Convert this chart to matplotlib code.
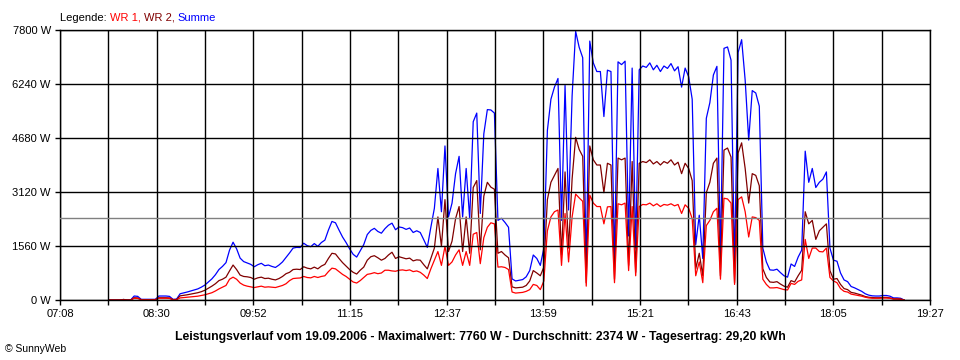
import numpy as np
import matplotlib.pyplot as plt

plt.rcParams['font.family'] = ['Liberation Sans', 'DejaVu Sans']

## samples every 3 minutes, first sample at 07:50
start_min = 7 * 60 + 50
step_min = 3

## WR 1 (red) in W
wr1 = [0, 0, 0, 0, 0, 0, 0, 50, 45, 10, 10, 10, 10, 10, 50, 50, 50, 45, 10, 10,
       60, 70, 80, 90, 100, 110, 130, 150, 180, 210,
       260, 320, 370, 420, 600, 660, 600, 490, 430, 400,
       380, 360, 380, 400, 370, 380, 370, 360, 390, 420,
       470, 560, 620, 630, 636, 680, 650, 640, 680, 650,
       680, 700, 820, 920, 900, 820, 740, 680, 600, 520,
       490, 560, 650, 740, 760, 790, 760, 780, 860, 860,
       840, 830, 860, 870, 850, 870, 820, 840, 800, 720,
       620, 900, 1150, 1400, 1000, 1550, 1000, 1100, 1300, 1450,
       1000, 1400, 1000, 1900, 1950, 1050, 1800, 2100, 2230, 2200,
       950, 960, 940, 880, 230, 200, 210, 220, 250, 300,
       450, 420, 300, 550, 2000, 2400, 2550, 2600, 1000, 2500,
       1100, 2400, 3060, 2950, 2850, 400, 3030, 2800, 2700, 2700,
       2200, 2690, 2700, 500, 2780, 2750, 2800, 850, 2700, 700,
       2700, 2760, 2750, 2800, 2720, 2780, 2700, 2760, 2740, 2780,
       2720, 2760, 2500, 2750, 2650, 2350, 700, 1100, 500, 2150,
       2300, 2550, 2650, 600, 2940, 2920, 2800, 450, 2900, 2980,
       2550, 1820, 2400, 2380, 2300, 600, 450, 350, 350, 360,
       330, 300, 290, 480, 450, 540, 580, 1750, 1200, 1500,
       1500, 1400, 1390, 1500, 650, 550, 500, 330, 250, 230,
       170, 150, 130, 110, 80, 60, 50, 50, 50, 55,
       55, 50, 25, 25, 20, 0]

## WR 2 (dark red) in W
wr2 = [0, 0, 0, 0, 15, 0, 0, 65, 60, 10, 10, 10, 10, 10, 65, 65, 65, 60, 10, 15,
       120, 135, 150, 170, 190, 210, 240, 280, 340, 400,
       470, 560, 600, 660, 840, 1010, 880, 720, 680, 670,
       650, 600, 640, 660, 620, 630, 600, 580, 620, 680,
       760, 800, 880, 890, 880, 960, 920, 900, 950, 900,
       980, 1030, 1200, 1350, 1330, 1200, 1080, 980, 880, 800,
       750, 860, 950, 1150, 1250, 1280, 1220, 1150, 1200, 1300,
       1380, 1200, 1250, 1220, 1190, 1210, 1130, 1160, 1150, 1020,
       900, 1200, 1500, 2400, 1550, 2900, 1400, 1700, 2350, 2700,
       1400, 2400, 1350, 3250, 3450, 1450, 3000, 3400, 3260, 3200,
       1350, 1400, 1300, 1220, 380, 350, 360, 370, 420, 550,
       850, 780, 700, 950, 2900, 3400, 3600, 3800, 1300, 3700,
       1500, 3500, 4700, 4350, 4150, 500, 4450, 4050, 3900, 3900,
       3100, 3950, 3900, 600, 4100, 4050, 4100, 1000, 4000, 800,
       3950, 4000, 3970, 4050, 3930, 4000, 3900, 4000, 3950, 4050,
       3900, 3980, 3650, 3950, 3800, 3450, 900, 1350, 700, 3100,
       3400, 3950, 4100, 700, 4330, 4390, 4130, 500, 4250, 4540,
       3800, 2800, 3650, 3600, 3300, 900, 650, 520, 510, 530,
       460, 400, 370, 560, 520, 700, 860, 2550, 2200, 2300,
       1750, 2000, 2100, 2200, 850, 600, 620, 450, 330, 300,
       220, 200, 170, 140, 100, 80, 70, 65, 65, 75,
       75, 60, 35, 35, 30, 0]

x_labels = ['07:08', '08:30', '09:52', '11:15', '12:37',
            '13:59', '15:21', '16:43', '18:05', '19:27']
y_ticks = [0, 1560, 3120, 4680, 6240, 7800]
average = 2374
title = ('Leistungsverlauf vom 19.09.2006 - Maximalwert: 7760 W - '
         'Durchschnitt: 2374 W - Tagesertrag: 29,20 kWh')

t = start_min + step_min * np.arange(len(wr1))
summe = np.array(wr1) + np.array(wr2)

fig = plt.figure(figsize=(9.6, 3.6), dpi=100)
ax = fig.add_axes([60 / 960, 60 / 360, 870 / 960, 270 / 360])

ax.plot(t, summe, color='#0000ff', lw=0.9)
ax.plot(t, wr2, color='#800000', lw=0.9)
ax.plot(t, wr1, color='#ff0000', lw=0.9)
ax.axhline(average, color='#808080', lw=1.0, zorder=4)

t0, t1 = 7 * 60 + 8, 19 * 60 + 27
ax.set_xlim(t0, t1)
ax.set_ylim(0, 7800)

grid_x = np.linspace(t0, t1, 19)
ax.set_xticks(grid_x)
ax.set_xticklabels([x_labels[k // 2] if k % 2 == 0 else '' for k in range(19)])
ax.set_yticks(y_ticks)
ax.set_yticklabels([f'{v} W' for v in y_ticks])

ax.set_axisbelow(False)
ax.grid(True, color='black', lw=1.0)
for s in ax.spines.values():
    s.set_color('black')
    s.set_linewidth(1.0)
ax.tick_params(direction='out', length=3.6, width=1.0, labelsize=8, pad=3)

## coloured legend line at top, pieces placed one after another
fig.canvas.draw()
renderer = fig.canvas.get_renderer()
x_px = 60
for label, col in [('Legende: ', 'black'), ('WR 1, ', '#ff0000'),
                   ('WR 2, ', '#800000'), ('Summe', '#0000ff')]:
    tx = fig.text(x_px / 960, 1 - 21 / 360, label, fontsize=8, color=col,
                  va='baseline')
    x_px += tx.get_window_extent(renderer).width

fig.text(0.5, 1 - 337 / 360, title, ha='center', va='center',
         fontsize=8.8, fontweight='bold')
fig.text(5 / 960, 1 - 349 / 360, '\u00a9 SunnyWeb', fontsize=7.5, va='center')

fig.savefig('out.png', dpi=100)
